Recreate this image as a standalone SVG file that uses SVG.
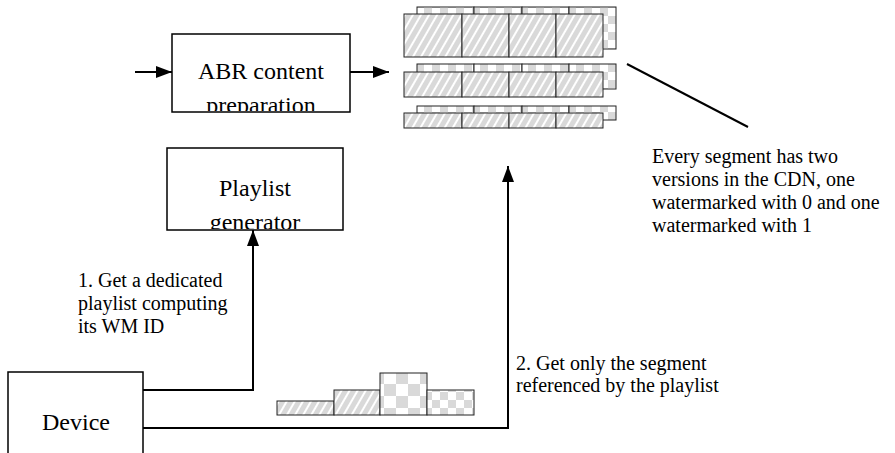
<svg xmlns="http://www.w3.org/2000/svg" width="895" height="453" viewBox="0 0 895 453">
<style>
.box{fill:#fff;stroke:#000;stroke-width:1.5}
.lbl{font-family:'Liberation Serif','Times New Roman','DejaVu Serif',serif;font-size:24px;fill:#000;text-anchor:middle}
.note{font-family:'Liberation Serif','Times New Roman','DejaVu Serif',serif;font-size:20px;fill:#000}
.con{fill:none;stroke:#000;stroke-width:2}
.hs{fill:url(#hatch);stroke:#222;stroke-width:1}
.ck{fill:url(#check);stroke:#222;stroke-width:1}
.ckb{fill:url(#checkBig);stroke:#222;stroke-width:1}
</style>
<defs>
<pattern id="hatch" width="7" height="7" patternUnits="userSpaceOnUse" patternTransform="rotate(30)">
<rect width="7" height="7" fill="#d9d9d9"/>
<rect width="2" height="7" fill="#fff"/>
</pattern>
<pattern id="check" width="16" height="16" patternUnits="userSpaceOnUse">
<rect width="16" height="16" fill="#fff"/>
<rect width="8" height="8" fill="#d9d9d9"/>
<rect x="8" y="8" width="8" height="8" fill="#d9d9d9"/>
</pattern>
<pattern id="checkBig" width="24" height="24" patternUnits="userSpaceOnUse">
<rect width="24" height="24" fill="#fff"/>
<rect width="12" height="12" fill="#d9d9d9"/>
<rect x="12" y="12" width="12" height="12" fill="#d9d9d9"/>
</pattern>
<marker id="arr" markerWidth="16" markerHeight="12" refX="16" refY="6" orient="auto" markerUnits="userSpaceOnUse">
<path d="M0,0 L16,6 L0,12 Z" fill="#000"/>
</marker>
<clipPath id="clipAbr"><rect x="172" y="34" width="178" height="77"/></clipPath>
<clipPath id="clipPl"><rect x="167" y="148" width="176" height="81"/></clipPath>
</defs>

<g id="abr">
<rect class="box" x="172" y="34" width="178" height="78"/>
<g clip-path="url(#clipAbr)">
<text class="lbl" x="261" y="79">ABR content</text>
<text class="lbl" x="261" y="113">preparation</text>
</g>
</g>

<g id="playlist">
<rect class="box" x="167" y="148" width="176" height="82"/>
<g clip-path="url(#clipPl)">
<text class="lbl" x="255" y="196">Playlist</text>
<text class="lbl" x="255" y="230">generator</text>
</g>
</g>

<g id="device">
<rect class="box" x="8" y="372" width="135" height="95"/>
<text class="lbl" x="76" y="430">Device</text>
</g>

<g id="cdn">
<rect class="ck" x="417" y="7" width="57" height="42"/>
<rect class="ck" x="474" y="7" width="48" height="42"/>
<rect class="ck" x="522" y="7" width="47" height="42"/>
<rect class="ck" x="569" y="7" width="47" height="42"/>
<rect class="hs" x="404" y="14" width="58" height="43"/>
<rect class="hs" x="462" y="14" width="47" height="43"/>
<rect class="hs" x="509" y="14" width="47" height="43"/>
<rect class="hs" x="556" y="14" width="47" height="43"/>

<rect class="ck" x="417" y="64" width="57" height="25"/>
<rect class="ck" x="474" y="64" width="48" height="25"/>
<rect class="ck" x="522" y="64" width="47" height="25"/>
<rect class="ck" x="569" y="64" width="47" height="25"/>
<rect class="hs" x="404" y="72" width="58" height="25"/>
<rect class="hs" x="462" y="72" width="47" height="25"/>
<rect class="hs" x="509" y="72" width="47" height="25"/>
<rect class="hs" x="556" y="72" width="47" height="25"/>

<rect class="ck" x="417" y="106" width="57" height="14"/>
<rect class="ck" x="474" y="106" width="48" height="14"/>
<rect class="ck" x="522" y="106" width="47" height="14"/>
<rect class="ck" x="569" y="106" width="47" height="14"/>
<rect class="hs" x="404" y="113" width="58" height="15"/>
<rect class="hs" x="462" y="113" width="47" height="15"/>
<rect class="hs" x="509" y="113" width="47" height="15"/>
<rect class="hs" x="556" y="113" width="47" height="15"/>
</g>

<g id="segments">
<rect class="hs" x="277" y="401" width="57" height="14"/>
<rect class="hs" x="334" y="390" width="46" height="25"/>
<rect class="ckb" x="380" y="373" width="47" height="42"/>
<rect class="ck" x="427" y="390" width="47" height="25"/>
</g>

<g id="connectors">
<line class="con" x1="135" y1="72" x2="172" y2="72" marker-end="url(#arr)"/>
<line class="con" x1="350" y1="72" x2="389" y2="72" marker-end="url(#arr)"/>
<polyline class="con" points="143,390 253,390 253,230" marker-end="url(#arr)"/>
<polyline class="con" points="143,428 508,428 508,166" marker-end="url(#arr)"/>
<line class="con" x1="627" y1="64" x2="748" y2="127"/>
</g>

<g id="notes">
<text class="note" x="652" y="163">Every segment has two</text>
<text class="note" x="652" y="186">versions in the CDN, one</text>
<text class="note" x="652" y="209">watermarked with 0 and one</text>
<text class="note" x="652" y="232">watermarked with 1</text>
<text class="note" x="516" y="370">2. Get only the segment</text>
<text class="note" x="516" y="392">referenced by the playlist</text>
<text class="note" x="78" y="287">1. Get a dedicated</text>
<text class="note" x="78" y="310">playlist computing</text>
<text class="note" x="78" y="333">its WM ID</text>
</g>
</svg>
